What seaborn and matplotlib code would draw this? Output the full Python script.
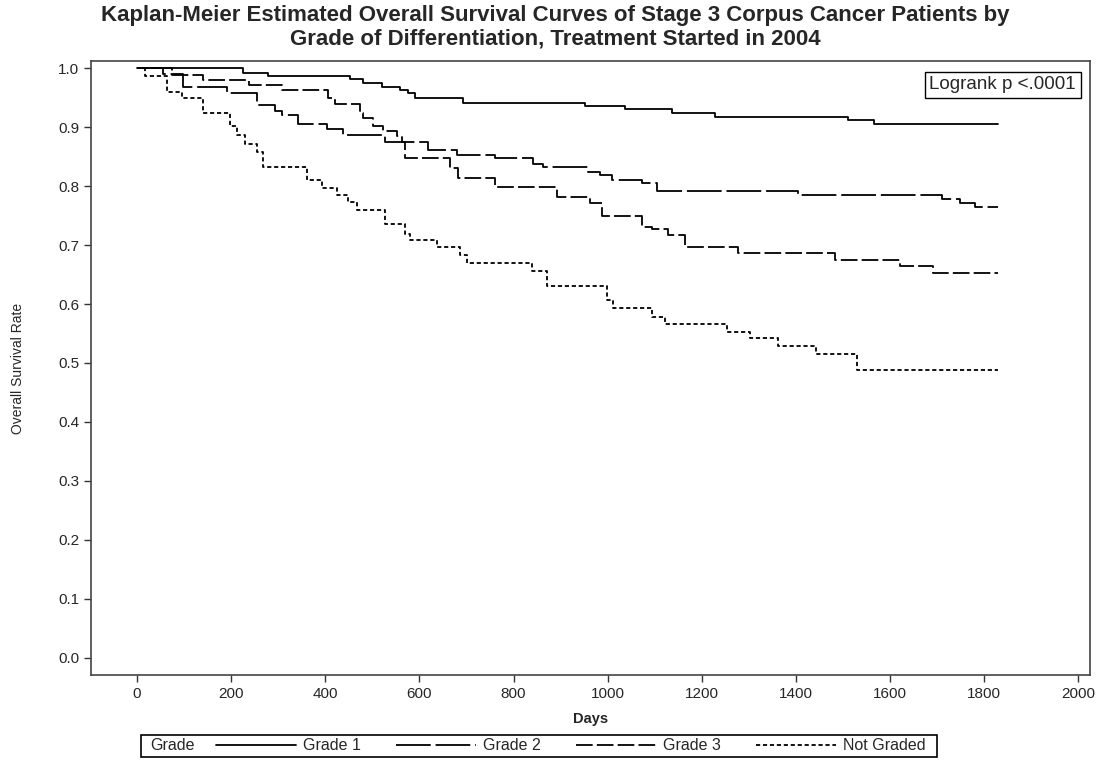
import numpy as np
import pandas as pd
import seaborn as sns
import matplotlib.pyplot as plt
from matplotlib.lines import Line2D
from matplotlib.patches import Rectangle

# ---- Data (Kaplan-Meier step points) ----
grades = ['Grade 1', 'Grade 2', 'Grade 3', 'Not Graded']

grade1_days = [0, 225, 279, 453, 480, 520, 559, 576, 591, 693, 952, 1037, 1136,
               1228, 1511, 1565, 1830]
grade1_surv = [1.0, 0.992, 0.986, 0.981, 0.974, 0.968, 0.963, 0.957, 0.949, 0.941,
               0.936, 0.931, 0.923, 0.917, 0.912, 0.905, 0.905]

grade2_days = [0, 55, 98, 191, 254, 293, 307, 342, 403, 438, 527, 619, 680, 761,
               842, 863, 959, 984, 1009, 1073, 1105, 1405, 1711, 1749, 1781, 1830]
grade2_surv = [1.0, 0.990, 0.968, 0.958, 0.937, 0.928, 0.920, 0.906, 0.897, 0.886,
               0.875, 0.861, 0.853, 0.847, 0.838, 0.833, 0.824, 0.819, 0.811, 0.805,
               0.792, 0.785, 0.778, 0.771, 0.764, 0.764]

grade3_days = [0, 75, 140, 238, 307, 405, 420, 474, 481, 502, 523, 552, 563, 570,
               665, 682, 761, 892, 963, 988, 1073, 1094, 1129, 1164, 1278, 1483,
               1621, 1692, 1830]
grade3_surv = [1.0, 0.988, 0.980, 0.972, 0.962, 0.950, 0.939, 0.924, 0.915, 0.901,
               0.894, 0.885, 0.875, 0.847, 0.830, 0.814, 0.798, 0.782, 0.771, 0.749,
               0.731, 0.727, 0.717, 0.697, 0.686, 0.675, 0.664, 0.653, 0.653]

notgraded_days = [0, 17, 64, 96, 140, 198, 212, 230, 254, 268, 361, 393, 425, 449,
                  467, 527, 570, 580, 637, 686, 701, 839, 871, 999, 1012, 1094, 1122,
                  1254, 1303, 1362, 1443, 1530, 1830]
notgraded_surv = [1.0, 0.986, 0.960, 0.949, 0.923, 0.902, 0.886, 0.872, 0.858, 0.833,
                  0.810, 0.796, 0.785, 0.773, 0.759, 0.736, 0.719, 0.708, 0.696, 0.683,
                  0.670, 0.656, 0.631, 0.607, 0.593, 0.578, 0.566, 0.553, 0.542, 0.529,
                  0.515, 0.488, 0.488]

x_ticks = list(range(0, 2001, 200))
y_ticks = [round(v * 0.1, 1) for v in range(0, 11)]

frames = []
for g, d, s in zip(grades,
                   [grade1_days, grade2_days, grade3_days, notgraded_days],
                   [grade1_surv, grade2_surv, grade3_surv, notgraded_surv]):
    frames.append(pd.DataFrame({'Days': d, 'Survival': s, 'Grade': g}))
df = pd.concat(frames, ignore_index=True)

# ---- Styling ----
sns.set_style('ticks')
plt.rcParams['font.family'] = ['Liberation Sans', 'DejaVu Sans']
plt.rcParams['lines.scale_dashes'] = False

dash_map = {'Grade 1': '', 'Grade 2': (25, 3.5), 'Grade 3': (12, 3),
            'Not Graded': (3, 2)}

fig, ax = plt.subplots(figsize=(11.1, 7.6), dpi=100)
fig.subplots_adjust(left=91 / 1110, right=1090 / 1110, top=1 - 61 / 760,
                    bottom=1 - 675 / 760)

sns.lineplot(data=df, x='Days', y='Survival', hue='Grade', style='Grade',
             palette=['black'] * 4, dashes=dash_map, estimator=None,
             drawstyle='steps-post', linewidth=1.3, legend=False, ax=ax)

ax.set_xlim(-98, 2025)
ax.set_ylim(-0.029, 1.012)
ax.set_xticks(x_ticks)
ax.set_yticks(y_ticks)
ax.set_yticklabels([f'{v:.1f}' for v in y_ticks])
ax.tick_params(axis='both', labelsize=11, length=5, width=1, color='#333333')
for sp in ax.spines.values():
    sp.set_color('#444444')
    sp.set_linewidth(1.2)

ax.set_xlabel('Days', fontsize=10.5, fontweight='bold', labelpad=8)
ax.set_ylabel('Overall Survival Rate', fontsize=10, labelpad=24)

fig.text(0.5, 1 - 16 / 760,
         'Kaplan-Meier Estimated Overall Survival Curves of Stage 3 Corpus Cancer Patients by',
         fontsize=16, fontweight='bold', ha='center', va='center')
fig.text(0.5, 1 - 39 / 760, 'Grade of Differentiation, Treatment Started in 2004',
         fontsize=16, fontweight='bold', ha='center', va='center')

ax.text(0.986, 0.975, 'Logrank p <.0001', transform=ax.transAxes, fontsize=13.5,
        ha='right', va='top',
        bbox=dict(boxstyle='square,pad=0.25', facecolor='white', edgecolor='black', lw=1))

# ---- Legend across the bottom ----
fig.patches.append(Rectangle((141 / 1110, 1 - 757 / 760), (937 - 141) / 1110, 22 / 760,
                             transform=fig.transFigure, fill=False,
                             edgecolor='black', lw=1.2))
fig.text(150 / 1110, 1 - 746 / 760, 'Grade', fontsize=11.5, va='center', ha='left')
handles = [Line2D([], [], color='black', lw=1.3, linestyle='-')]
for g in grades[1:]:
    handles.append(Line2D([], [], color='black', lw=1.3,
                          linestyle=(0, dash_map[g])))
fig.legend(handles, grades, loc='center left', bbox_to_anchor=(216 / 1110, 1 - 746 / 760),
           ncol=4, frameon=False, fontsize=11.5, handlelength=5.0, handletextpad=0.45,
           columnspacing=2.2, borderpad=0, borderaxespad=0)

fig.savefig('out.png', dpi=100)
